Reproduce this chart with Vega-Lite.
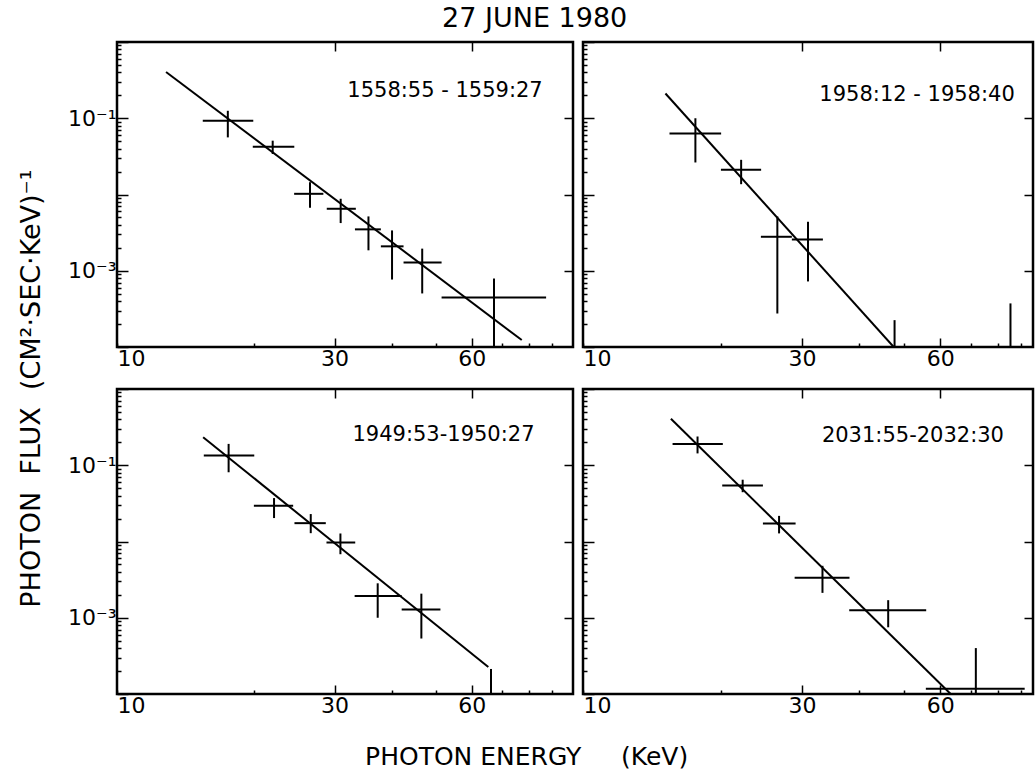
{
  "$schema": "https://vega.github.io/schema/vega-lite/v6.json",
  "padding": {"left": 18, "top": 4, "right": 0, "bottom": 0},
  "background": "white",
  "title": {"text": "27 JUNE 1980", "fontSize": 27, "font": "DejaVu Sans", "fontWeight": "normal", "anchor": "middle", "color": "black", "offset": -3, "dx": 8},
  "datasets": {
    "fits": [
      {"panel": "TL", "E": 12.81, "F": 0.405}, {"panel": "TL", "E": 77.2, "F": 0.0001235},
      {"panel": "TR", "E": 15.12, "F": 0.211}, {"panel": "TR", "E": 47.5, "F": 0.0001},
      {"panel": "BL", "E": 15.45, "F": 0.2336}, {"panel": "BL", "E": 65.2, "F": 0.000226},
      {"panel": "BR", "E": 15.54, "F": 0.408}, {"panel": "BR", "E": 63.2, "F": 0.0001}
    ],
    "pts": [
      {"panel": "TL", "E": 17.5, "Elo": 15.42, "Ehi": 19.9, "F": 0.0927, "Flo": 0.0561, "Fhi": 0.1253},
      {"panel": "TL", "E": 21.95, "Elo": 19.85, "Ehi": 24.48, "F": 0.0424, "Flo": 0.034, "Fhi": 0.0508},
      {"panel": "TL", "E": 26.5, "Elo": 24.46, "Ehi": 28.35, "F": 0.01021, "Flo": 0.0067, "Fhi": 0.01449},
      {"panel": "TL", "E": 30.94, "Elo": 28.84, "Ehi": 33.4, "F": 0.0065, "Flo": 0.00422, "Fhi": 0.00879},
      {"panel": "TL", "E": 35.6, "Elo": 33.25, "Ehi": 37.9, "F": 0.00349, "Flo": 0.001853, "Fhi": 0.00516},
      {"panel": "TL", "E": 40.1, "Elo": 37.9, "Ehi": 42.5, "F": 0.00209, "Flo": 0.000767, "Fhi": 0.00338},
      {"panel": "TL", "E": 46.7, "Elo": 42.5, "Ehi": 51.5, "F": 0.00128, "Flo": 0.000504, "Fhi": 0.00195},
      {"panel": "TL", "E": 67.1, "Elo": 51.5, "Ehi": 87.3, "F": 0.000447, "Flo": 0.0001, "Fhi": 0.000791},
      {"panel": "TR", "E": 17.57, "Elo": 15.43, "Ehi": 19.99, "F": 0.063, "Flo": 0.0263, "Fhi": 0.1},
      {"panel": "TR", "E": 22.1, "Elo": 19.97, "Ehi": 24.43, "F": 0.0211, "Flo": 0.01365, "Fhi": 0.0285},
      {"panel": "TR", "E": 26.5, "Elo": 24.4, "Ehi": 28.5, "F": 0.00279, "Flo": 0.000275, "Fhi": 0.00515},
      {"panel": "TR", "E": 30.9, "Elo": 28.5, "Ehi": 33.3, "F": 0.00257, "Flo": 0.000724, "Fhi": 0.00439},
      {"panel": "TR", "E": 47.7, "Elo": null, "Ehi": null, "F": null, "Flo": 0.0001, "Fhi": 0.000225},
      {"panel": "TR", "E": 85.3, "Elo": null, "Ehi": null, "F": null, "Flo": 0.0001, "Fhi": 0.000373},
      {"panel": "BL", "E": 17.57, "Elo": 15.5, "Ehi": 20.0, "F": 0.1341, "Flo": 0.0809, "Fhi": 0.1906},
      {"panel": "BL", "E": 22.1, "Elo": 19.96, "Ehi": 24.34, "F": 0.0295, "Flo": 0.0203, "Fhi": 0.0371},
      {"panel": "BL", "E": 26.6, "Elo": 24.5, "Ehi": 28.7, "F": 0.0174, "Flo": 0.01286, "Fhi": 0.0229},
      {"panel": "BL", "E": 30.9, "Elo": 28.8, "Ehi": 33.3, "F": 0.0097, "Flo": 0.00681, "Fhi": 0.01274},
      {"panel": "BL", "E": 37.3, "Elo": 33.2, "Ehi": 42.1, "F": 0.00193, "Flo": 0.001, "Fhi": 0.00283},
      {"panel": "BL", "E": 46.5, "Elo": 42.1, "Ehi": 51.2, "F": 0.001286, "Flo": 0.000534, "Fhi": 0.00207},
      {"panel": "BL", "E": 66.1, "Elo": null, "Ehi": null, "F": null, "Flo": 0.0001, "Fhi": 0.000213},
      {"panel": "BR", "E": 17.76, "Elo": 15.67, "Ehi": 20.16, "F": 0.19, "Flo": 0.143, "Fhi": 0.2383},
      {"panel": "BR", "E": 22.27, "Elo": 20.1, "Ehi": 24.65, "F": 0.0543, "Flo": 0.0443, "Fhi": 0.0646},
      {"panel": "BR", "E": 26.73, "Elo": 24.65, "Ehi": 29.04, "F": 0.01718, "Flo": 0.01277, "Fhi": 0.02168},
      {"panel": "BR", "E": 33.23, "Elo": 28.9, "Ehi": 38.05, "F": 0.003357, "Flo": 0.00212, "Fhi": 0.0048},
      {"panel": "BR", "E": 46.2, "Elo": 38.0, "Ehi": 55.9, "F": 0.00125, "Flo": 0.00075, "Fhi": 0.0017},
      {"panel": "BR", "E": 71.7, "Elo": 55.8, "Ehi": 91.6, "F": 0.0001175, "Flo": 0.0001, "Fhi": 0.0004}
    ],
    "labels": [
      {"panel": "TL", "label": "1558:55 - 1559:27"},
      {"panel": "TR", "label": "1958:12 - 1958:40"},
      {"panel": "BL", "label": "1949:53-1950:27"},
      {"panel": "BR", "label": "2031:55-2032:30"}
    ]
  },
  "vconcat": [
    {
      "title": {"text": "PHOTON ENERGY\u00a0\u00a0\u00a0\u00a0\u00a0(KeV)", "orient": "bottom", "fontSize": 25, "font": "DejaVu Sans", "fontWeight": "normal", "anchor": "middle", "color": "black", "offset": 28},
      "vconcat": [
        {
          "title": {"text": "PHOTON\u00a0 FLUX\u00a0 (CM²·SEC·KeV)⁻¹", "orient": "left", "fontSize": 27, "font": "DejaVu Sans", "fontWeight": "normal", "anchor": "middle", "color": "black", "offset": 20, "dx": -15},
          "spacing": 5,
          "vconcat": [
            {
              "spacing": 6,
              "hconcat": [
                {
                  "width": 456, "height": 305,
                  "layer": [
                    {"data": {"name": "fits"}, "transform": [{"filter": "datum.panel == 'TL'"}],
                     "mark": {"type": "line", "color": "black", "strokeWidth": 2, "clip": true},
                     "encoding": {
                       "x": {"field": "E", "type": "quantitative", "scale": {"type": "log", "domain": [10, 100], "nice": false},
                             "axis": {"orient": "bottom", "title": null, "values": [10, 20, 30, 40, 50, 60, 70, 80, 90], "labelExpr": "datum.value==10?'10':datum.value==30?'30':datum.value==60?'60':''", "labelFlush": true, "tickSize": {"condition": {"test": "datum.value==30||datum.value==60", "value": -9}, "value": -4}, "labelPadding": {"condition": {"test": "datum.value==30||datum.value==60", "value": 10}, "value": 5}}},
                       "y": {"field": "F", "type": "quantitative", "scale": {"type": "log", "domain": [0.0001, 1], "nice": false},
                             "axis": {"orient": "left", "title": null, "values": [0.0001,0.0002,0.0003,0.0004,0.0005,0.0006,0.0007,0.0008,0.0009,0.001,0.002,0.003,0.004,0.005,0.006,0.007,0.008,0.009,0.01,0.02,0.03,0.04,0.05,0.06,0.07,0.08,0.09,0.1,0.2,0.3,0.4,0.5,0.6,0.7,0.8,0.9,1], "labelExpr": "datum.value==0.1?'10⁻¹':datum.value==0.001?'10⁻³':''", "tickSize": {"condition": {"test": "indexof([0.0001,0.001,0.01,0.1,1],datum.value)>=0", "value": -11}, "value": -4}, "labelPadding": 12}}
                     }},
                    {"data": {"name": "pts"}, "transform": [{"filter": "datum.panel == 'TL' && datum.Elo != null"}],
                     "mark": {"type": "rule", "color": "black", "strokeWidth": 2, "clip": true},
                     "encoding": {"x": {"field": "Elo", "type": "quantitative", "axis": null}, "x2": {"field": "Ehi"}, "y": {"field": "F", "type": "quantitative", "axis": null}}},
                    {"data": {"name": "pts"}, "transform": [{"filter": "datum.panel == 'TL'"}],
                     "mark": {"type": "rule", "color": "black", "strokeWidth": 2, "clip": true},
                     "encoding": {"x": {"field": "E", "type": "quantitative", "axis": {"orient": "top", "title": null, "values": [30, 60], "tickSize": -9, "labels": false}},
                                  "y": {"field": "Flo", "type": "quantitative", "axis": {"orient": "right", "title": null, "values": [0.001, 0.01, 0.1], "tickSize": -9, "labels": false}}, "y2": {"field": "Fhi"}}},
                    {"data": {"name": "labels"}, "transform": [{"filter": "datum.panel == 'TL'"}],
                     "mark": {"type": "text", "font": "DejaVu Sans", "fontSize": 21, "color": "black", "align": "center", "baseline": "middle"},
                     "encoding": {"x": {"datum": 52.4, "type": "quantitative", "axis": null}, "y": {"datum": 0.229, "type": "quantitative", "axis": null}, "text": {"field": "label"}}}
                  ],
                  "resolve": {"axis": {"x": "independent", "y": "independent"}}
                },
                {
                  "width": 450, "height": 305,
                  "layer": [
                    {"data": {"name": "fits"}, "transform": [{"filter": "datum.panel == 'TR'"}],
                     "mark": {"type": "line", "color": "black", "strokeWidth": 2, "clip": true},
                     "encoding": {
                       "x": {"field": "E", "type": "quantitative", "scale": {"type": "log", "domain": [10, 95.5], "nice": false},
                             "axis": {"orient": "bottom", "title": null, "values": [10, 20, 30, 40, 50, 60, 70, 80, 90], "labelExpr": "datum.value==10?'10':datum.value==30?'30':datum.value==60?'60':''", "labelFlush": true, "tickSize": {"condition": {"test": "datum.value==30||datum.value==60", "value": -9}, "value": -4}, "labelPadding": {"condition": {"test": "datum.value==30||datum.value==60", "value": 10}, "value": 5}}},
                       "y": {"field": "F", "type": "quantitative", "scale": {"type": "log", "domain": [0.0001, 1], "nice": false},
                             "axis": {"orient": "left", "title": null, "values": [0.0001,0.0002,0.0003,0.0004,0.0005,0.0006,0.0007,0.0008,0.0009,0.001,0.002,0.003,0.004,0.005,0.006,0.007,0.008,0.009,0.01,0.02,0.03,0.04,0.05,0.06,0.07,0.08,0.09,0.1,0.2,0.3,0.4,0.5,0.6,0.7,0.8,0.9,1], "labels": false, "tickSize": {"condition": {"test": "indexof([0.0001,0.001,0.01,0.1,1],datum.value)>=0", "value": -11}, "value": -4}}}
                     }},
                    {"data": {"name": "pts"}, "transform": [{"filter": "datum.panel == 'TR' && datum.Elo != null"}],
                     "mark": {"type": "rule", "color": "black", "strokeWidth": 2, "clip": true},
                     "encoding": {"x": {"field": "Elo", "type": "quantitative", "axis": null}, "x2": {"field": "Ehi"}, "y": {"field": "F", "type": "quantitative", "axis": null}}},
                    {"data": {"name": "pts"}, "transform": [{"filter": "datum.panel == 'TR'"}],
                     "mark": {"type": "rule", "color": "black", "strokeWidth": 2, "clip": true},
                     "encoding": {"x": {"field": "E", "type": "quantitative", "axis": {"orient": "top", "title": null, "values": [30, 60], "tickSize": -9, "labels": false}},
                                  "y": {"field": "Flo", "type": "quantitative", "axis": {"orient": "right", "title": null, "values": [0.001, 0.01, 0.1], "tickSize": -9, "labels": false}}, "y2": {"field": "Fhi"}}},
                    {"data": {"name": "labels"}, "transform": [{"filter": "datum.panel == 'TR'"}],
                     "mark": {"type": "text", "font": "DejaVu Sans", "fontSize": 21, "color": "black", "align": "center", "baseline": "middle"},
                     "encoding": {"x": {"datum": 53.4, "type": "quantitative", "axis": null}, "y": {"datum": 0.201, "type": "quantitative", "axis": null}, "text": {"field": "label"}}}
                  ],
                  "resolve": {"axis": {"x": "independent", "y": "independent"}}
                }
              ]
            },
            {
              "spacing": 6,
              "hconcat": [
                {
                  "width": 456, "height": 305,
                  "layer": [
                    {"data": {"name": "fits"}, "transform": [{"filter": "datum.panel == 'BL'"}],
                     "mark": {"type": "line", "color": "black", "strokeWidth": 2, "clip": true},
                     "encoding": {
                       "x": {"field": "E", "type": "quantitative", "scale": {"type": "log", "domain": [10, 100], "nice": false},
                             "axis": {"orient": "bottom", "title": null, "values": [10, 20, 30, 40, 50, 60, 70, 80, 90], "labelExpr": "datum.value==10?'10':datum.value==30?'30':datum.value==60?'60':''", "labelFlush": true, "tickSize": {"condition": {"test": "datum.value==30||datum.value==60", "value": -9}, "value": -4}, "labelPadding": {"condition": {"test": "datum.value==30||datum.value==60", "value": 10}, "value": 5}}},
                       "y": {"field": "F", "type": "quantitative", "scale": {"type": "log", "domain": [0.0001, 1], "nice": false},
                             "axis": {"orient": "left", "title": null, "values": [0.0001,0.0002,0.0003,0.0004,0.0005,0.0006,0.0007,0.0008,0.0009,0.001,0.002,0.003,0.004,0.005,0.006,0.007,0.008,0.009,0.01,0.02,0.03,0.04,0.05,0.06,0.07,0.08,0.09,0.1,0.2,0.3,0.4,0.5,0.6,0.7,0.8,0.9,1], "labelExpr": "datum.value==0.1?'10⁻¹':datum.value==0.001?'10⁻³':''", "tickSize": {"condition": {"test": "indexof([0.0001,0.001,0.01,0.1,1],datum.value)>=0", "value": -11}, "value": -4}, "labelPadding": 12}}
                     }},
                    {"data": {"name": "pts"}, "transform": [{"filter": "datum.panel == 'BL' && datum.Elo != null"}],
                     "mark": {"type": "rule", "color": "black", "strokeWidth": 2, "clip": true},
                     "encoding": {"x": {"field": "Elo", "type": "quantitative", "axis": null}, "x2": {"field": "Ehi"}, "y": {"field": "F", "type": "quantitative", "axis": null}}},
                    {"data": {"name": "pts"}, "transform": [{"filter": "datum.panel == 'BL'"}],
                     "mark": {"type": "rule", "color": "black", "strokeWidth": 2, "clip": true},
                     "encoding": {"x": {"field": "E", "type": "quantitative", "axis": {"orient": "top", "title": null, "values": [30, 60], "tickSize": -9, "labels": false}},
                                  "y": {"field": "Flo", "type": "quantitative", "axis": {"orient": "right", "title": null, "values": [0.001, 0.01, 0.1], "tickSize": -9, "labels": false}}, "y2": {"field": "Fhi"}}},
                    {"data": {"name": "labels"}, "transform": [{"filter": "datum.panel == 'BL'"}],
                     "mark": {"type": "text", "font": "DejaVu Sans", "fontSize": 21, "color": "black", "align": "center", "baseline": "middle"},
                     "encoding": {"x": {"datum": 52.0, "type": "quantitative", "axis": null}, "y": {"datum": 0.248, "type": "quantitative", "axis": null}, "text": {"field": "label"}}}
                  ],
                  "resolve": {"axis": {"x": "independent", "y": "independent"}}
                },
                {
                  "width": 450, "height": 305,
                  "layer": [
                    {"data": {"name": "fits"}, "transform": [{"filter": "datum.panel == 'BR'"}],
                     "mark": {"type": "line", "color": "black", "strokeWidth": 2, "clip": true},
                     "encoding": {
                       "x": {"field": "E", "type": "quantitative", "scale": {"type": "log", "domain": [10, 95.5], "nice": false},
                             "axis": {"orient": "bottom", "title": null, "values": [10, 20, 30, 40, 50, 60, 70, 80, 90], "labelExpr": "datum.value==10?'10':datum.value==30?'30':datum.value==60?'60':''", "labelFlush": true, "tickSize": {"condition": {"test": "datum.value==30||datum.value==60", "value": -9}, "value": -4}, "labelPadding": {"condition": {"test": "datum.value==30||datum.value==60", "value": 10}, "value": 5}}},
                       "y": {"field": "F", "type": "quantitative", "scale": {"type": "log", "domain": [0.0001, 1], "nice": false},
                             "axis": {"orient": "left", "title": null, "values": [0.0001,0.0002,0.0003,0.0004,0.0005,0.0006,0.0007,0.0008,0.0009,0.001,0.002,0.003,0.004,0.005,0.006,0.007,0.008,0.009,0.01,0.02,0.03,0.04,0.05,0.06,0.07,0.08,0.09,0.1,0.2,0.3,0.4,0.5,0.6,0.7,0.8,0.9,1], "labels": false, "tickSize": {"condition": {"test": "indexof([0.0001,0.001,0.01,0.1,1],datum.value)>=0", "value": -11}, "value": -4}}}
                     }},
                    {"data": {"name": "pts"}, "transform": [{"filter": "datum.panel == 'BR' && datum.Elo != null"}],
                     "mark": {"type": "rule", "color": "black", "strokeWidth": 2, "clip": true},
                     "encoding": {"x": {"field": "Elo", "type": "quantitative", "axis": null}, "x2": {"field": "Ehi"}, "y": {"field": "F", "type": "quantitative", "axis": null}}},
                    {"data": {"name": "pts"}, "transform": [{"filter": "datum.panel == 'BR'"}],
                     "mark": {"type": "rule", "color": "black", "strokeWidth": 2, "clip": true},
                     "encoding": {"x": {"field": "E", "type": "quantitative", "axis": {"orient": "top", "title": null, "values": [30, 60], "tickSize": -9, "labels": false}},
                                  "y": {"field": "Flo", "type": "quantitative", "axis": {"orient": "right", "title": null, "values": [0.001, 0.01, 0.1], "tickSize": -9, "labels": false}}, "y2": {"field": "Fhi"}}},
                    {"data": {"name": "labels"}, "transform": [{"filter": "datum.panel == 'BR'"}],
                     "mark": {"type": "text", "font": "DejaVu Sans", "fontSize": 21, "color": "black", "align": "center", "baseline": "middle"},
                     "encoding": {"x": {"datum": 52.3, "type": "quantitative", "axis": null}, "y": {"datum": 0.24, "type": "quantitative", "axis": null}, "text": {"field": "label"}}}
                  ],
                  "resolve": {"axis": {"x": "independent", "y": "independent"}}
                }
              ]
            }
          ]
        }
      ]
    }
  ],
  "config": {
    "view": {"stroke": "black", "strokeWidth": 2.5},
    "font": "DejaVu Sans",
    "axis": {"domain": false, "grid": false, "tickColor": "black", "tickWidth": 1.5, "labelColor": "black", "labelFont": "DejaVu Sans", "labelFontSize": 22, "labelOverlap": false, "minExtent": 0}
  }
}
